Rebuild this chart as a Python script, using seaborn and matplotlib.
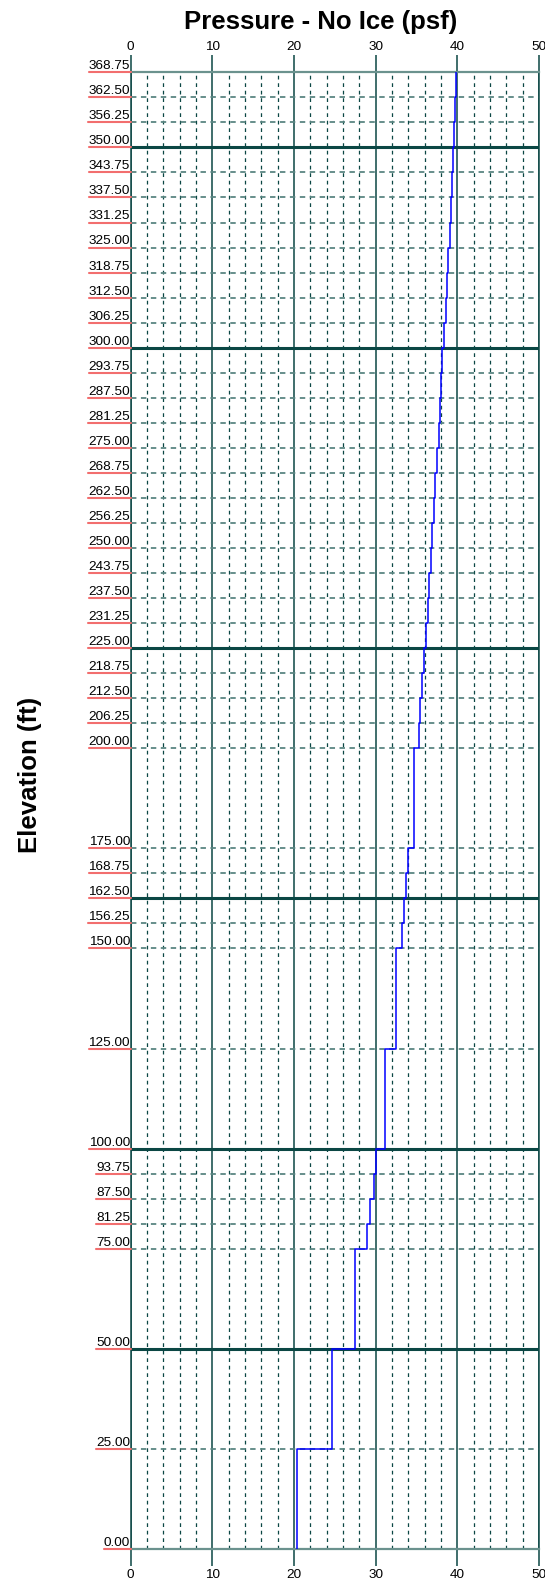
import numpy as np
import pandas as pd
import seaborn as sns
import matplotlib.pyplot as plt
from matplotlib.lines import Line2D

# ------------------------------
# Data
# ------------------------------
elevation_top = [
    368.75, 362.50, 356.25, 350.00, 343.75, 337.50, 331.25, 325.00,
    318.75, 312.50, 306.25, 300.00, 293.75, 287.50, 281.25, 275.00,
    268.75, 262.50, 256.25, 250.00, 243.75, 237.50, 231.25, 225.00,
    218.75, 212.50, 206.25, 200.00, 175.00, 168.75, 162.50, 156.25,
    150.00, 125.00, 100.00, 93.75, 87.50, 81.25, 75.00, 50.00, 25.00
]
elevation_bottom = elevation_top[1:] + [0.00]

pressure = [
    39.85, 39.70, 39.60, 39.45, 39.30, 39.20, 39.05, 38.90,
    38.75, 38.60, 38.40, 38.15, 38.00, 37.85, 37.70, 37.50,
    37.30, 37.10, 36.95, 36.75, 36.55, 36.35, 36.15, 35.90,
    35.65, 35.45, 35.25, 34.70, 34.00, 33.75, 33.50, 33.20,
    32.50, 31.10, 30.05, 29.75, 29.30, 28.90, 27.50, 24.70, 20.40
]

section_breaks = [350.00, 300.00, 225.00, 162.50, 100.00, 50.00]
x_major = [0, 10, 20, 30, 40, 50]
x_minor = [v for v in range(0, 51, 2) if v % 10 != 0]

# ------------------------------
# Style
# ------------------------------
DARK = "#0b4744"
GRID_H = "#5a8682"
BORDER = "#6b928e"
UNDERLINE = "#f26e6e"

sns.set_theme(style="white")
plt.rcParams["font.family"] = ["Liberation Sans", "DejaVu Sans"]
plt.rcParams["text.color"] = "black"

W, H = 545, 1583
fig = plt.figure(figsize=(W / 100, H / 100), dpi=100)
ax = fig.add_axes([130.7 / W, 1 - 1549.3 / H, (539 - 130.7) / W, (1549.3 - 72.3) / H])

# step profile
rows = []
for p, top, bot in zip(pressure, elevation_top, elevation_bottom):
    rows.append((p, top))
    rows.append((p, bot))
profile = pd.DataFrame(rows, columns=["pressure", "elevation"])

sns.lineplot(
    data=profile, x="pressure", y="elevation",
    sort=False, estimator=None, color="#0000ff", lw=1.1, ax=ax, zorder=5
)

ax.set_xlim(0, 50)
ax.set_ylim(0, 368.75)

# vertical grid
ax.set_xticks(x_major)
ax.set_xticks(x_minor, minor=True)
ax.grid(False)
ax.grid(axis="x", which="major", color=DARK, lw=1.1, ls="-", zorder=1)
ax.grid(axis="x", which="minor", color=DARK, lw=0.9, ls=(0, (3, 3)), zorder=1)

# horizontal grid
dashed_levels = [e for e in elevation_bottom if e not in section_breaks and e > 0]
ax.hlines(dashed_levels, 0, 50, colors=GRID_H, lw=1.3, linestyles=(0, (3, 2.5)), zorder=2)
ax.hlines(section_breaks, 0, 50, colors=DARK, lw=2.2, zorder=3)

for side in ["left", "right"]:
    ax.spines[side].set_color(DARK)
    ax.spines[side].set_linewidth(1.1)
for side in ["top", "bottom"]:
    ax.spines[side].set_color(BORDER)
    ax.spines[side].set_linewidth(1.6)

ax.tick_params(
    axis="x", which="major", top=True, labeltop=True, bottom=True, labelbottom=True,
    length=12, width=1.1, color=DARK, pad=2, labelsize=9.7, labelcolor="black"
)
ax.tick_params(axis="x", which="minor", length=0)
ax.set_yticks([])
ax.set_xlabel("")
ax.set_ylabel("")

# elevation labels
labels = []
for e in elevation_top + [0.00]:
    t = ax.annotate(
        f"{e:.2f}", xy=(0, e), xycoords=("axes fraction", "data"),
        xytext=(-0.5, 2.2), textcoords="offset points",
        ha="right", va="baseline", fontsize=9.7, color="black"
    )
    labels.append((t, e))

fig.text(321 / W, 1 - 29.3 / H, "Pressure - No Ice (psf)", ha="center", va="baseline",
         fontsize=18.5, fontweight="bold", color="black")
fig.text(30 / W, 1 - 775 / H, "Elevation (ft)", ha="center", va="center",
         rotation=90, fontsize=18.5, fontweight="bold", color="black")

# red underline under each elevation label
fig.canvas.draw()
for t, e in labels:
    bb = t.get_window_extent()
    y = ax.transData.transform((0, e))[1]
    x1 = ax.transAxes.transform((0, 0))[0]
    fig.add_artist(Line2D([bb.x0 / W, x1 / W], [y / H, y / H],
                          transform=fig.transFigure, color=UNDERLINE, lw=1.5))

fig.savefig("out.png", dpi=100)
